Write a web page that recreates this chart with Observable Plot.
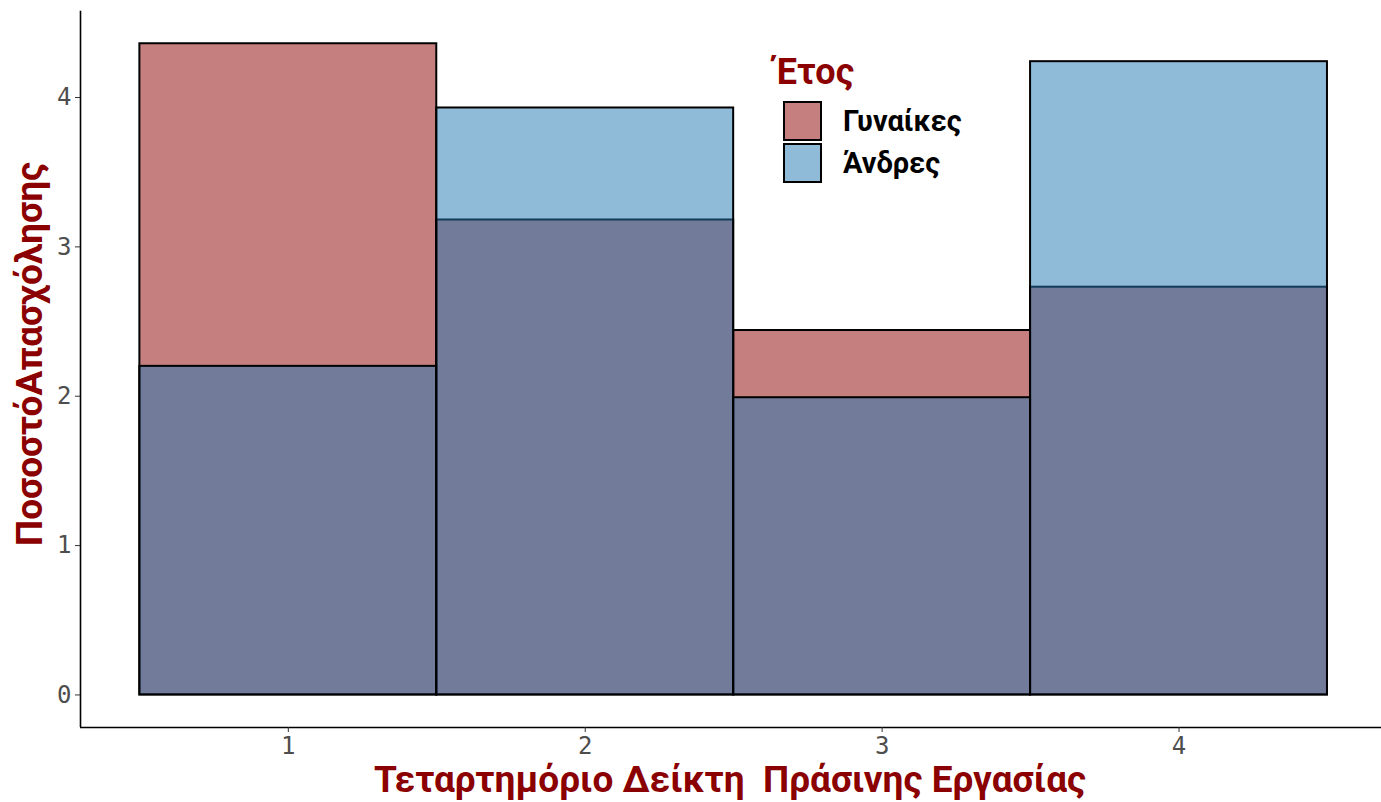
<!DOCTYPE html>
<html>
<head>
<meta charset="utf-8">
<script src="https://cdn.jsdelivr.net/npm/d3@7"></script>
<script src="https://cdn.jsdelivr.net/npm/@observablehq/plot@0.6"></script>
<style>
  html, body { margin: 0; padding: 0; background: #fff; }
  #wrap { position: relative; width: 1381px; height: 802px; }
</style>
</head>
<body>
<div id="wrap"></div>
<script>
const quartiles = [1, 2, 3, 4];
const women = [4.36, 3.18, 2.44, 2.73];
const men = [2.20, 3.93, 1.99, 4.24];
const seriesNames = ["Γυναίκες", "Άνδρες"];
const seriesColors = ["#8B0000", "#1F77B4"];
const xTicks = [1, 2, 3, 4];
const yTicks = [0, 1, 2, 3, 4];
const xTitle = "Τεταρτημόριο Δείκτη  Πράσινης Εργασίας";
const yTitle = "ΠοσοστόΑπασχόλησης";
const legendTitle = "Έτος";

const womenData = quartiles.map((q, i) => ({q, v: women[i]}));
const menData = quartiles.map((q, i) => ({q, v: men[i]}));

const xDomain = [0.3, 4.682];
const yDomain = [-0.218, 4.578];

const barOpts = (color) => ({
  x1: d => d.q - 0.5, x2: d => d.q + 0.5, y1: 0, y2: "v",
  fill: color, fillOpacity: 0.5, stroke: "#000", strokeWidth: 2
});

const plot = Plot.plot({
  width: 1381, height: 802,
  marginLeft: 80, marginRight: 0, marginTop: 10.7, marginBottom: 75,
  style: {fontFamily: "'DejaVu Sans Mono', monospace", background: "#fff"},
  x: {domain: xDomain, label: null},
  y: {domain: yDomain, label: null},
  marks: [
    Plot.rectY(womenData, barOpts(seriesColors[0])),
    Plot.rectY(menData, barOpts(seriesColors[1])),
    Plot.ruleX([xDomain[0]], {stroke: "#000", strokeWidth: 1.6}),
    Plot.ruleY([yDomain[0]], {stroke: "#000", strokeWidth: 1.6}),
    Plot.axisX({ticks: xTicks, tickSize: 5, tickPadding: 4, stroke: "#333", tickFormat: d => String(d), fontSize: 24, fill: "#4D4D4D", label: null}),
    Plot.axisY({ticks: yTicks, tickSize: 5, tickPadding: 4, stroke: "#333", tickFormat: d => String(d), fontSize: 24, fill: "#4D4D4D", label: null})
  ]
});

document.getElementById("wrap").appendChild(plot);

const svg = d3.select(plot);
const titleFont = "Roboto, sans-serif";
svg.append("text")
  .attr("x", 730).attr("y", 792)
  .attr("text-anchor", "middle")
  .attr("font-family", titleFont)
  .attr("font-weight", 700).attr("font-size", 37)
  .attr("fill", "#8B0000")
  .text(xTitle);
svg.append("text")
  .attr("transform", "translate(42,354) rotate(-90)")
  .attr("text-anchor", "middle")
  .attr("font-family", titleFont)
  .attr("font-weight", 700).attr("font-size", 37)
  .attr("fill", "#8B0000")
  .text(yTitle);

// legend
const lg = svg.append("g").attr("font-family", titleFont).attr("font-weight", 700).attr("text-anchor", "start");
lg.append("text").attr("x", 775).attr("y", 84)
  .attr("font-size", 36).attr("fill", "#8B0000").text(legendTitle);
seriesNames.forEach((n, i) => {
  const cy = 121 + i * 42;
  lg.append("rect")
    .attr("x", 784).attr("y", cy - 19).attr("width", 37).attr("height", 38)
    .attr("fill", seriesColors[i]).attr("fill-opacity", 0.5)
    .attr("stroke", "#000").attr("stroke-width", 2);
  lg.append("text").attr("x", 843).attr("y", cy).attr("dy", "0.35em")
    .attr("font-size", 29).attr("fill", "#000").text(n);
});
</script>
</body>
</html>
